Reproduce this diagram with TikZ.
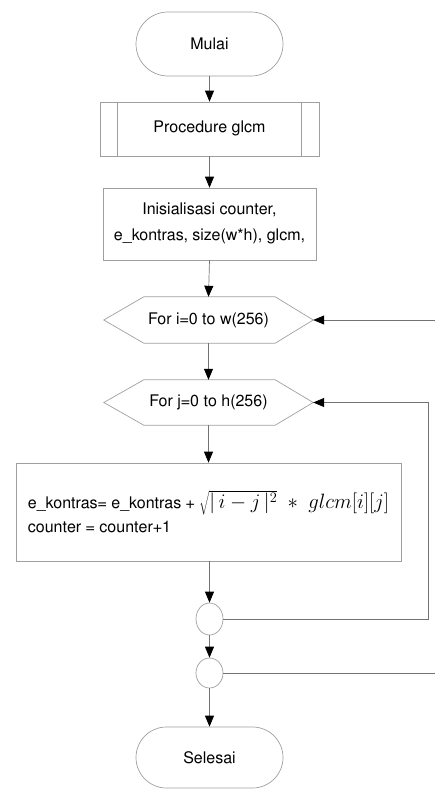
\documentclass[tikz,border=0pt]{standalone}
\usepackage[T1]{fontenc}
\usepackage{helvet}
\renewcommand{\familydefault}{\sfdefault}
\usetikzlibrary{shapes.misc,shapes.geometric,arrows.meta}
\begin{document}
\begin{tikzpicture}[x=1pt,y=1pt,
  every node/.style={font=\fontsize{16}{24}\selectfont},
  shp/.style={draw=gray!75, line width=0.7pt},
  term/.style={shp, rounded rectangle, minimum width=147pt, minimum height=64pt, inner sep=0pt},
  pbox/.style={shp, rectangle, inner sep=0pt},
  hexa/.style={rectangle, minimum width=209pt, minimum height=46pt, inner sep=0pt},
  jnc/.style={shp, ellipse, minimum width=27pt, minimum height=32pt, inner sep=0pt},
  hexline/.style={draw=gray!75, line width=0.7pt},
  conn/.style={-{Triangle[length=11pt,width=9pt,color=black]}, draw=gray!90!black, line width=0.7pt},
  wire/.style={draw=gray!90!black, line width=0.7pt}
]
\useasboundingbox (0,-790) rectangle (435,0);

\node[term] (start) at (209.5,-44) {Mulai};
\node[pbox, minimum width=219pt, minimum height=54pt] (proc) at (209.5,-129) {Procedure glcm};
\draw[hexline] ([xshift=18pt]proc.north west) -- ([xshift=18pt]proc.south west);
\draw[hexline] ([xshift=-18pt]proc.north east) -- ([xshift=-18pt]proc.south east);
\node[pbox, minimum width=213pt, minimum height=72pt, align=center] (init) at (209.5,-224)
  {Inisialisasi counter,\\[2pt] e\_kontras, size(w*h), glcm,};

\node[hexa] (hi) at (208.5,-320) {For i=0 to w(256)};
\draw[hexline] (hi.west) -- ([xshift=40pt]hi.north west) -- ([xshift=-38pt]hi.north east) -- (hi.east)
  -- ([xshift=-38pt]hi.south east) -- ([xshift=40pt]hi.south west) -- cycle;
\node[hexa, minimum height=45pt] (hj) at (208.5,-402.5) {For j=0 to h(256)};
\draw[hexline] (hj.west) -- ([xshift=40pt]hj.north west) -- ([xshift=-38pt]hj.north east) -- (hj.east)
  -- ([xshift=-38pt]hj.south east) -- ([xshift=40pt]hj.south west) -- cycle;

\node[pbox, minimum width=385pt, minimum height=98pt, align=left] (calc) at (208.5,-512)
  {e\_kontras= e\_kontras + {\fontsize{20}{24}\selectfont$\sqrt{|\,i-j\,|^2}\;*\;glcm[i][j]$}\\
   counter = counter+1};

\node[jnc] (c1) at (209.5,-619) {};
\node[jnc, minimum height=30pt] (c2) at (209.5,-673) {};
\node[term, minimum height=61pt] (stop) at (209.5,-757.5) {Selesai};

\draw[conn] (start.south) -- (proc.north);
\draw[conn] (proc.south) -- (init.north);
\draw[conn] (init.south) -- (hi.north);
\draw[conn] (hi.south) -- (hj.north);
\draw[conn] (hj.south) -- (calc.north -| hj.south);
\draw[conn] (calc.south -| c1.north) -- (c1.north);
\draw[conn] (c1.south) -- (c2.north);
\draw[conn] (c2.south) -- (stop.north);

\coordinate (lj) at (428,-619);
\draw[conn] (c1.east) -- (lj) |- (hj.east);
\coordinate (li) at (440,-673);
\coordinate (lin) at (440,-320);
\draw[wire] (c2.east) -- (li);
\draw[conn] (lin) -- (hi.east);
\end{tikzpicture}
\end{document}
